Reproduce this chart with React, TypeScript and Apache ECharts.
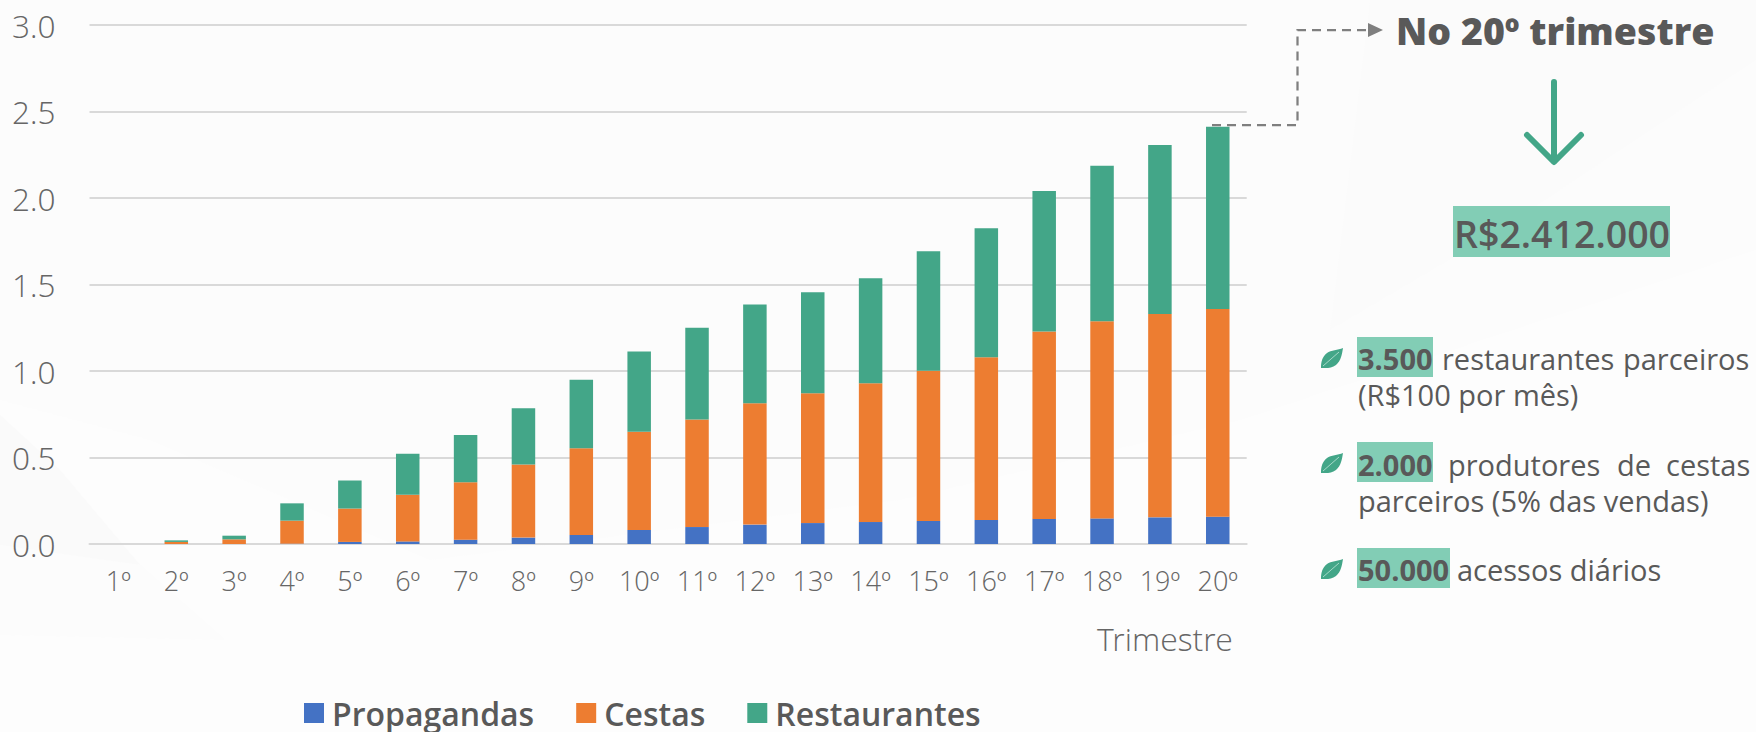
import React, { useEffect, useRef } from "react";
import * as echarts from "echarts";

const categories = ["1º","2º","3º","4º","5º","6º","7º","8º","9º","10º","11º","12º","13º","14º","15º","16º","17º","18º","19º","20º"];
const propagandas = [0,0,0,0.002,0.012,0.015,0.025,0.037,0.052,0.081,0.098,0.112,0.121,0.127,0.133,0.139,0.145,0.148,0.154,0.158];
const cestas = [0,0.012,0.027,0.133,0.193,0.269,0.332,0.422,0.502,0.568,0.621,0.701,0.75,0.802,0.869,0.94,1.083,1.139,1.176,1.2];
const restaurantes = [0,0.009,0.021,0.1,0.162,0.237,0.273,0.325,0.396,0.463,0.531,0.572,0.584,0.607,0.69,0.746,0.812,0.9,0.976,1.054];

const FONT = "'Open Sans'";
const LIGHT = "'Open Sans Light','Open Sans'";
const TEXT = "#595959";
const TICK = "#666666";
const GREEN = "#43A688";
const HILITE = "#82CDB5";
const LEAF = "M22 0C21 6 20 13 15 17C10 21 4 20 0 20C0 14 1 9 6 5C10 2 17 2 22 0Z";
echarts.graphic.registerShape("leaf", echarts.graphic.extendPath(LEAF, {}) as any);

function word(text: string, x: number, y: number, fontSize = 29, fontWeight: any = 400) {
  return { type: "text", x, y, z: 5, style: { text, fontFamily: FONT, fontSize, fontWeight, fill: TEXT, verticalAlign: "middle", align: "left" } };
}
function hilite(x: number, y: number, width: number, height: number) {
  return { type: "rect", z: 4, shape: { x, y, width, height }, style: { fill: HILITE } };
}
function leaf(y: number) {
  return {
    type: "group", x: 1321, y, z: 5,
    children: [
      { type: "leaf", style: { fill: GREEN } },
      { type: "line", shape: { x1: 2, y1: 18, x2: 18, y2: 4 }, style: { stroke: "#cfeee2", lineWidth: 0.7 } },
    ],
  };
}
function bg(points: number[][], fill: string) {
  return { type: "polygon", z: -10, silent: true, shape: { points }, style: { fill } };
}

const graphicEls: any[] = [
  bg([[0,0],[1756,0],[1756,250],[1240,420],[900,500],[430,560],[150,440],[0,400]], "#fcfcfc"),
  bg([[1370,0],[1756,0],[1756,60],[1500,230],[1330,330]], "#fbfbfb"),
  bg([[0,415],[60,470],[140,565],[60,555],[0,545]], "#fafafa"),
  bg([[0,545],[140,565],[225,640],[0,635]], "#fcfcfc"),

  { type: "polyline", z: 5, shape: { points: [[1212,125],[1297.5,125],[1297.5,30],[1372,30]] }, style: { stroke: "#7F7F7F", lineWidth: 2.25, lineDash: [9,6], fill: "none" } },
  { type: "polygon", z: 5, shape: { points: [[1368,23],[1383,30],[1368,37]] }, style: { fill: "#7F7F7F" } },
  word("No 20º trimestre", 1396, 30, 37.5, 800),
  { type: "line", z: 5, shape: { x1: 1554, y1: 82, x2: 1554, y2: 161 }, style: { stroke: GREEN, lineWidth: 6, lineCap: "round" } },
  { type: "polyline", z: 5, shape: { points: [[1527,135],[1554,162],[1581,135]] }, style: { stroke: GREEN, lineWidth: 6, lineCap: "round", lineJoin: "round", fill: "none" } },
  hilite(1453, 206, 217, 51),
  word("R$2.412.000", 1454, 233, 37.5, 600),

  leaf(348),
  hilite(1357, 337, 76, 40),
  word("3.500", 1358, 358, 29, 700),
  word("restaurantes", 1442, 358),
  word("parceiros", 1623, 358),
  word("(R$100 por mês)", 1358, 394),

  leaf(453),
  hilite(1357, 442, 76, 40),
  word("2.000", 1358, 464, 29, 700),
  word("produtores", 1448, 464),
  word("de", 1617, 464),
  word("cestas", 1666, 464),
  word("parceiros (5% das vendas)", 1358, 500),

  leaf(559),
  hilite(1357, 548, 93, 40),
  word("50.000", 1358, 569, 29, 700),
  word("acessos diários", 1457, 569),
];

export default function App() {
  const ref = useRef<HTMLDivElement>(null);
  useEffect(() => {
    document.body.style.margin = "0";
    const chart = echarts.init(ref.current!, undefined, { renderer: "svg" });
    const stackSeries = (name: string, data: number[], color: string) => ({
      name, type: "bar", stack: "total", data, barWidth: 23.5, itemStyle: { color },
    });
    chart.setOption({
      animation: false,
      backgroundColor: "#fdfdfd",
      textStyle: { fontFamily: FONT },
      grid: { left: 89.5, right: 509.3, top: 25, bottom: 188 },
      legend: {
        left: 304, top: 697, padding: 0, itemWidth: 20, itemHeight: 20, itemGap: 42, icon: "rect",
        textStyle: { fontFamily: FONT, fontSize: 32, lineHeight: 32, fontWeight: 600, color: TEXT, padding: [0,0,0,3] },
        data: ["Propagandas", "Cestas", "Restaurantes"],
      },
      xAxis: {
        type: "category", data: categories, name: "Trimestre", nameLocation: "end", nameGap: 0,
        nameTextStyle: { fontFamily: LIGHT, fontSize: 32, fontWeight: 300, color: TICK, align: "right", verticalAlign: "top", padding: [78, 14, 0, 0] },
        axisTick: { show: false },
        axisLine: { lineStyle: { color: "#D9D9D9", width: 2 } },
        axisLabel: { fontFamily: LIGHT, fontSize: 27, fontWeight: 300, color: TICK, margin: 23, interval: 0 },
      },
      yAxis: {
        type: "value", min: 0, max: 3, interval: 0.5,
        axisLine: { show: false }, axisTick: { show: false },
        splitLine: { lineStyle: { color: "#D9D9D9", width: 2 } },
        axisLabel: { fontFamily: LIGHT, fontSize: 31.5, fontWeight: 300, color: TICK, margin: 34, padding: [0,0,5,0], formatter: (v: number) => v.toFixed(1) },
      },
      series: [
        stackSeries("Propagandas", propagandas, "#4472C4"),
        stackSeries("Cestas", cestas, "#ED7D31"),
        stackSeries("Restaurantes", restaurantes, GREEN),
      ],
      graphic: { elements: graphicEls },
    });
    return () => chart.dispose();
  }, []);
  return <div ref={ref} style={{ position: "absolute", left: 0, top: 0, width: 1756, height: 732 }} />;
}
